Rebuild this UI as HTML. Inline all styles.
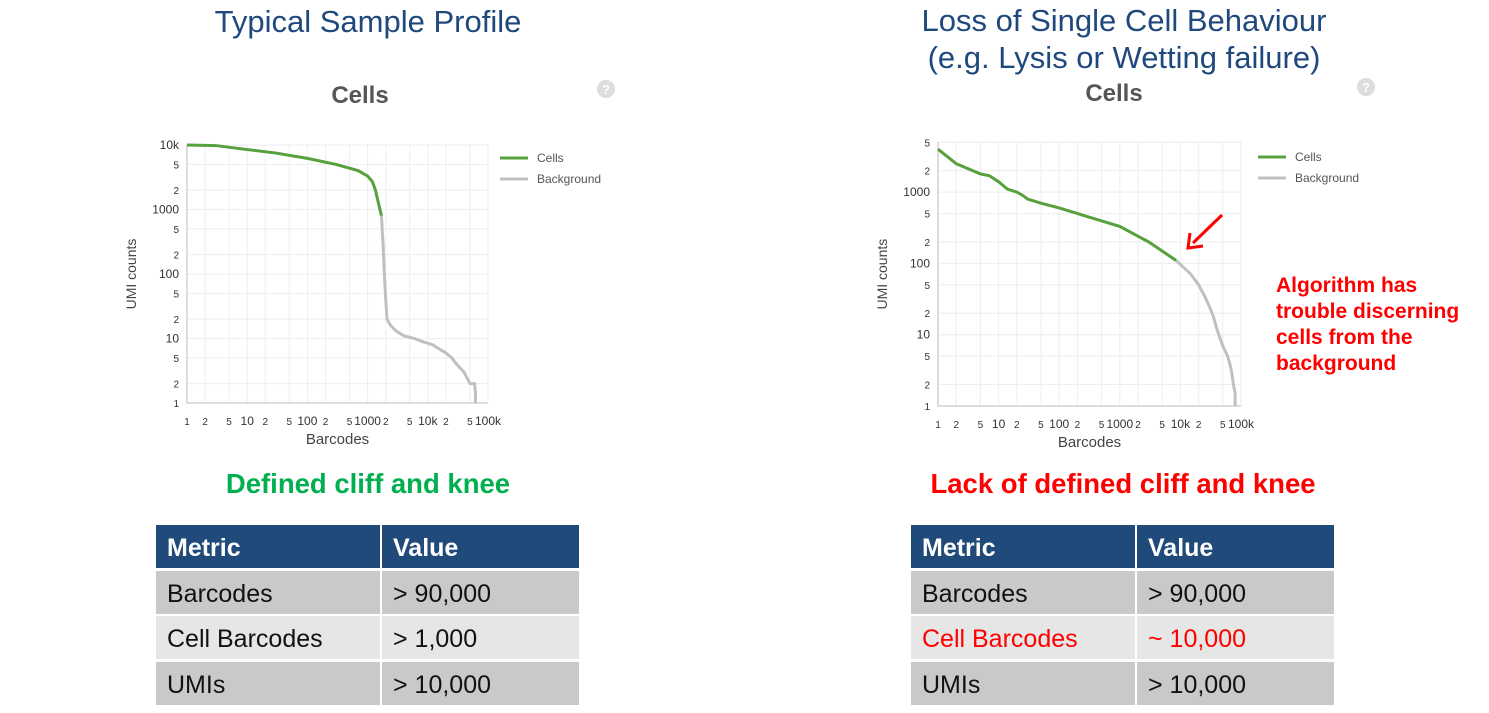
<!DOCTYPE html>
<html><head><meta charset="utf-8"><style>
html,body{margin:0;padding:0;background:#fff;}
svg{display:block;font-family:"Liberation Sans",Arial,sans-serif;}
</style></head><body>
<svg id="s" width="1489" height="713" viewBox="0 0 1489 713" xmlns="http://www.w3.org/2000/svg">
<text x="368" y="32" font-size="31" fill="#1f497d" text-anchor="middle">Typical Sample Profile</text>
<text x="1124" y="31" font-size="31" fill="#1f497d" text-anchor="middle">Loss of Single Cell Behaviour</text>
<text x="1124" y="68" font-size="31" fill="#1f497d" text-anchor="middle">(e.g. Lysis or Wetting failure)</text>
<text x="360" y="103" font-size="24" font-weight="bold" fill="#555" text-anchor="middle">Cells</text>
<text x="1114" y="101" font-size="24" font-weight="bold" fill="#555" text-anchor="middle">Cells</text>
<g><circle cx="606" cy="89" r="9" fill="#ddd"/><text x="606" y="94" font-size="13" font-weight="bold" fill="#fff" text-anchor="middle">?</text></g>
<g><circle cx="1366" cy="87" r="9" fill="#ddd"/><text x="1366" y="92" font-size="13" font-weight="bold" fill="#fff" text-anchor="middle">?</text></g>
<g id="c1"></g><g id="c2"></g>
<g><line x1="1222" y1="215" x2="1193" y2="243" stroke="#f00" stroke-width="3"/><polyline points="1190,233 1188,248 1203,246" fill="none" stroke="#f00" stroke-width="3"/></g>
<text font-size="21" font-weight="bold" fill="#f00"><tspan x="1276" y="292">Algorithm has</tspan><tspan x="1276" y="318">trouble discerning</tspan><tspan x="1276" y="344">cells from the</tspan><tspan x="1276" y="370">background</tspan></text>
<text x="368" y="493" font-size="27.5" font-weight="bold" fill="#00b050" text-anchor="middle">Defined cliff and knee</text>
<text x="1123" y="493" font-size="27.5" font-weight="bold" fill="#f00" text-anchor="middle">Lack of defined cliff and knee</text>
<g id="t1"></g><g id="t2"></g>
</svg>
<script>
const xTicks=["1","2","5","10","2","5","100","2","5","1000","2","5","10k","2","5","100k"];
const xTickVals=[1,2,5,10,20,50,100,200,500,1000,2000,5000,10000,20000,50000,100000];
const y1Ticks=["1","2","5","10","2","5","100","2","5","1000","2","5","10k"];
const y1TickVals=[1,2,5,10,20,50,100,200,500,1000,2000,5000,10000];
const y2Ticks=["1","2","5","10","2","5","100","2","5","1000","2","5"];
const y2TickVals=[1,2,5,10,20,50,100,200,500,1000,2000,5000];
const leftCellsX=[1,3,10,30,100,300,700,1000,1200,1350,1500,1700];
const leftCellsY=[10000,9800,8500,7500,6200,5000,4000,3300,2700,2000,1300,800];
const leftBgX=[1700,1800,1900,2000,2100,2400,3000,4000,6000,8000,12000,15000,20000,25000,30000,40000,50000,60000,62000,62000];
const leftBgY=[800,300,100,40,20,16,13,11,10,9,8,7,6,5,4,3,2,2,1.4,1];
const rightCellsX=[1,2,5,7,10,14,20,25,30,50,100,300,1000,3000,8500];
const rightCellsY=[4000,2500,1800,1700,1400,1100,1000,900,800,700,600,450,330,200,110];
const rightBgX=[8500,15000,20000,25000,30000,35000,40000,45000,50000,60000,65000,70000,75000,80000,80000];
const rightBgY=[110,70,50,35,25,18,12,9,7,5,4,3,2,1.5,1];
const NS="http://www.w3.org/2000/svg";
function mk(p,tag,a){const e=document.createElementNS(NS,tag);for(const k in a)e.setAttribute(k,a[k]);p.appendChild(e);return e;}
function chart(g,o){
 const xs=v=>o.x0+(o.x1-o.x0)*Math.log10(v)/5;
 const ys=v=>o.yb-o.ppd*Math.log10(v);
 
 
 const yt=ys(o.ymax);
 xTickVals.forEach((v,i)=>{const l=mk(g,'line',{x1:xs(v),x2:xs(v),y1:yt,y2:o.yb,stroke:'#eee','stroke-width':1});
  
  
  const t=mk(g,'text',{x:xs(v),y:o.yb+22,'font-size':(xTicks[i].length>1?12:10),fill:'#333','text-anchor':'middle'});t.textContent=xTicks[i];
  
  });
 o.yv.forEach((v,i)=>{const l=mk(g,'line',{x1:o.x0,x2:o.x1,y1:ys(v),y2:ys(v),stroke:'#eee','stroke-width':1});
  
  
  const t=mk(g,'text',{x:o.x0-8,y:ys(v)+4,'font-size':(o.yl[i].length>1?12:10),fill:'#333','text-anchor':'end'});t.textContent=o.yl[i];
  
  });
 const ax=mk(g,'polyline',{points:`${o.x0},${yt} ${o.x0},${o.yb} ${o.x1},${o.yb}`,fill:'none',stroke:'#bbb','stroke-width':1});
 
 
 const bg=mk(g,'polyline',{points:o.bx.map((v,i)=>xs(v)+','+ys(o.by[i])).join(' '),fill:'none',stroke:'#c0c0c0','stroke-width':3});
 
 
 const c=mk(g,'polyline',{points:o.cx.map((v,i)=>xs(v)+','+ys(o.cy[i])).join(' '),fill:'none',stroke:'#56a03d','stroke-width':3});
 
 
 const xt=mk(g,'text',{x:(o.x0+o.x1)/2,y:o.yb+41,'font-size':15,fill:'#444','text-anchor':'middle'});xt.textContent='Barcodes';
 
 
 const ytt=mk(g,'text',{x:0,y:0,'font-size':14,fill:'#444','text-anchor':'middle',transform:`translate(${o.x0-51},${(yt+o.yb)/2}) rotate(-90)`});ytt.textContent='UMI counts';
 
 
 [['Cells','#56a03d',0],['Background','#c0c0c0',21]].forEach(([n,col,d])=>{
  const lg=mk(g,'g',{});
  
  
  mk(lg,'line',{x1:o.lx,x2:o.lx+28,y1:o.ly+d,y2:o.ly+d,stroke:col,'stroke-width':3});
  const t=mk(lg,'text',{x:o.lx+37,y:o.ly+d+4,'font-size':12,fill:'#555'});t.textContent=n;});
}
chart(document.getElementById('c1'),{name:'left-chart',x0:187,x1:488,yb:403,ppd:64.5,ymax:10000,yv:y1TickVals,yl:y1Ticks,cx:leftCellsX,cy:leftCellsY,bx:leftBgX,by:leftBgY,lx:500,ly:158});
chart(document.getElementById('c2'),{name:'right-chart',x0:938,x1:1241,yb:406,ppd:71.3,ymax:5000,yv:y2TickVals,yl:y2Ticks,cx:rightCellsX,cy:rightCellsY,bx:rightBgX,by:rightBgY,lx:1258,ly:157});
const tableHead=["Metric","Value"];
const rowsLeft=[["Barcodes","> 90,000"],["Cell Barcodes","> 1,000"],["UMIs","> 10,000"]];
const rowsRight=[["Barcodes","> 90,000"],["Cell Barcodes","~ 10,000"],["UMIs","> 10,000"]];
function table(g,x,rows,name,redRow){
 
 
 const w1=224,w2=197,ys=[525,571,616,662],hs=[43,43,43,43];
 const fills=['#204a7a','#c9c9c9','#e6e6e6','#c9c9c9'];
 const all=[tableHead].concat(rows);
 all.forEach((r,i)=>{
  mk(g,'rect',{x:x,y:ys[i],width:w1,height:hs[i],fill:fills[i]});
  mk(g,'rect',{x:x+w1+2,y:ys[i],width:w2,height:hs[i],fill:fills[i]});
  r.forEach((s,j)=>{const t=mk(g,'text',{x:x+11+j*(w1+2),y:ys[i]+31,'font-size':25,'font-weight':i==0?'bold':'normal',fill:i==0?'#fff':(i==redRow?'#f00':'#111')});t.textContent=s;
   
   });
 });
}
table(document.getElementById('t1'),156,rowsLeft,'left-metrics-table',-1);
table(document.getElementById('t2'),911,rowsRight,'right-metrics-table',2);
</script>
</body></html>
